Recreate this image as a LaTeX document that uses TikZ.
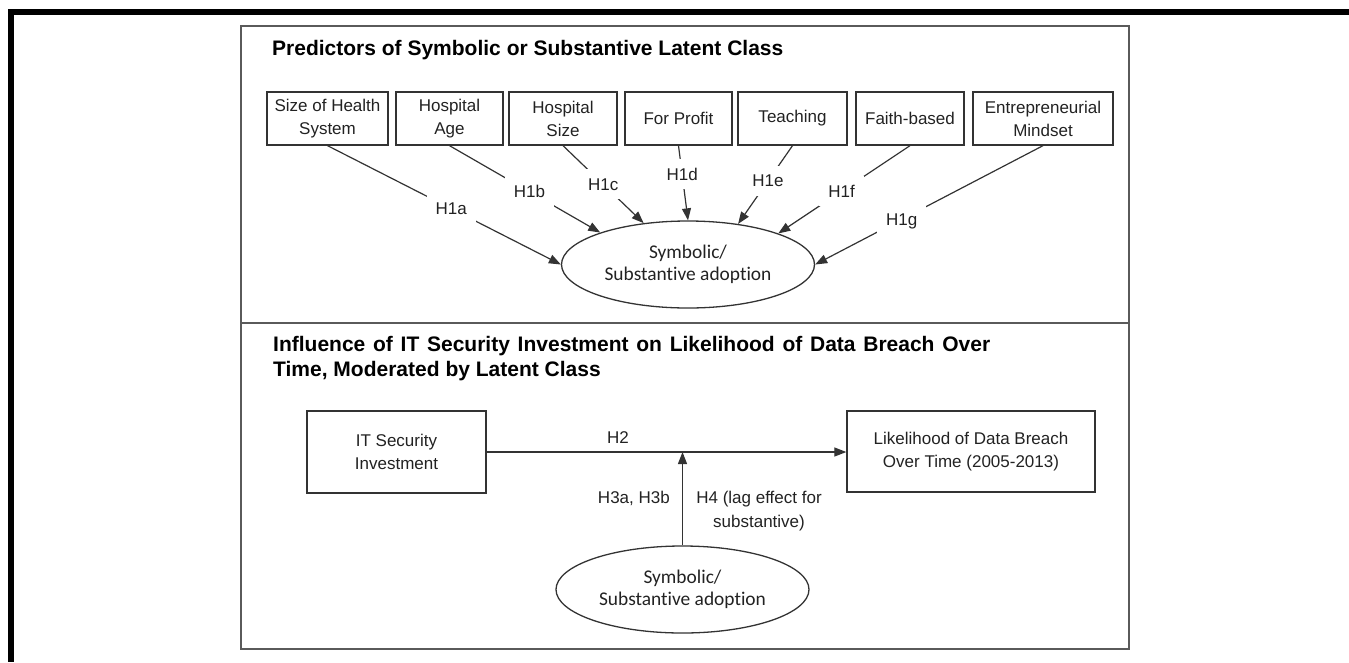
\documentclass[tikz,border=0pt]{standalone}
\usepackage{fontspec}
\setmainfont{Liberation Sans}
\newfontfamily\calfont[Ligatures=NoCommon]{Carlito}
\usetikzlibrary{arrows.meta,shapes.geometric}

\definecolor{ink}{HTML}{222222}
\definecolor{edge}{HTML}{333333}
\definecolor{panel}{HTML}{5A5A5A}

\begin{document}
\begin{tikzpicture}[x=1pt,y=-1pt,
  panelline/.style={draw=panel, line width=1.8pt},
  varbox/.style={draw=edge, line width=1.3pt, minimum height=53pt, inner sep=0pt,
    align=center, text=ink, font=\fontsize{17}{23}\selectfont},
  outbox/.style={draw=edge, line width=1.3pt, inner sep=0pt, align=center, text=ink,
    font=\fontsize{17}{23}\selectfont},
  latent/.style={draw=edge, line width=1.3pt, ellipse, inner sep=0pt,
    minimum width=253pt, minimum height=87pt, align=center, text=ink,
    font=\calfont\fontsize{19.4}{21.5}\selectfont},
  link/.style={draw=edge, line width=1.2pt, -{Triangle[length=12pt,width=9pt]}},
  hlab/.style={fill=white, inner sep=9pt, text height=12pt, text depth=0pt, text=ink,
    font=\fontsize{17}{20}\selectfont},
  plainlab/.style={inner sep=0pt, text=ink, font=\fontsize{17}{24}\selectfont},
  heading/.style={inner sep=0pt, text=black, align=left,
    font=\bfseries\fontsize{21}{25}\selectfont},
]
\useasboundingbox (0,0) rectangle (1349,662);

% heavy rule along the top and left edges of the page
\fill[black] (8,9) rectangle (1349,15);
\fill[black] (8,9) rectangle (14,662);

% outer frame and the divider between the two panels
\draw[panelline] (241,26) rectangle (1129,649);
\draw[panelline] (241,323) -- (1129,323);

% ---------- upper panel: predictors ----------
\node[heading, anchor=base west] (title1) at (272,55)
  {Predictors of Symbolic or Substantive Latent Class};

\node[varbox, minimum width=121pt] (p1) at (327.5,118.5) {Size of Health\\System};
\node[varbox, minimum width=107pt] (p2) at (449.5,118.5) {Hospital\\Age};
\node[varbox, minimum width=108pt] (p3) at (563,118.5) {Hospital\\Size};
\node[varbox, minimum width=107pt] (p4) at (678.5,118.5) {For Profit};
\node[varbox, minimum width=109pt] (p5) at (792.5,118.5) {Teaching};
\node[varbox, minimum width=108pt] (p6) at (910,118.5) {Faith-based};
\node[varbox, minimum width=140pt] (p7) at (1043,118.5) {Entrepreneurial\\Mindset};

\node[latent] (adopt) at (688,264.5) {Symbolic/\\Substantive adoption};

\draw[link] (p1.south) -- node[hlab, pos=0.53] {H1a} (adopt.180);
\draw[link] (p2.south) -- node[hlab, pos=0.53] {H1b} (adopt.160);
\draw[link] (p3.south) -- node[hlab, pos=0.50] {H1c} (adopt.137);
\draw[link] (p4.south) -- node[hlab, pos=0.38] {H1d} (adopt.90);
\draw[link] (p5.south) -- node[hlab, pos=0.45] {H1e} (adopt.39);
\draw[link] (p6.south) -- node[hlab, pos=0.52] {H1f} (adopt.19);
\draw[link] (p7.south) -- node[hlab, pos=0.62] {H1g} (adopt.0);

% ---------- lower panel: moderated effect ----------
\node[heading, anchor=north west] (title2) at (273,336.5)
  {\makebox[717pt][s]{Influence of IT Security Investment on Likelihood of Data Breach Over}\\
   Time, Moderated by Latent Class};

\node[outbox, minimum width=179pt, minimum height=82pt] (invest) at (396.5,452)
  {IT Security\\Investment};
\node[outbox, minimum width=248pt, minimum height=81pt] (breach) at (971,451.5)
  {Likelihood of Data Breach\\Over Time (2005-2013)};

\node[latent] (adopt2) at (682.5,589.5) {Symbolic/\\Substantive adoption};

\draw[link] (invest.east) -- (invest.east -| breach.west);
\node[plainlab, anchor=base] (h2) at (618,443) {H2};

\draw[link] (adopt2.north) -- (adopt2.north |- invest.east);
\node[plainlab, anchor=base east] (h3) at (670,503) {H3a, H3b};
\node[plainlab, anchor=north, align=center] (h4) at (759,490.5)
  {H4 (lag effect for\\substantive)};

\end{tikzpicture}
\end{document}
